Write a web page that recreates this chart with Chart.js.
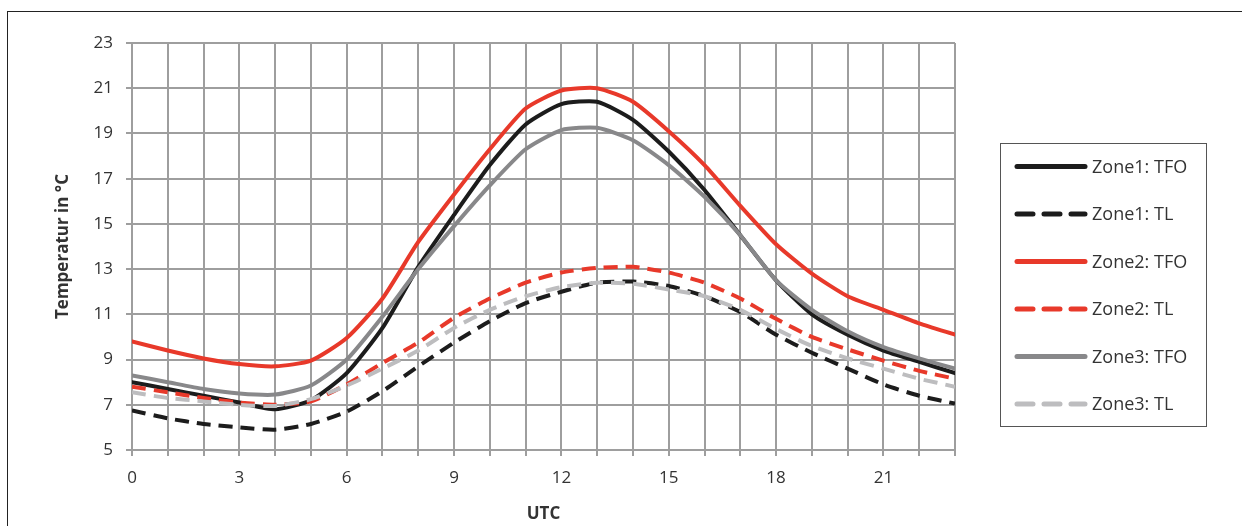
<!DOCTYPE html>
<html>
<head>
<meta charset="utf-8">
<script src="https://cdn.jsdelivr.net/npm/chart.js@4"></script>
<style>
  html, body { margin: 0; padding: 0; background: #fff; }
  #wrap { position: relative; width: 1242px; height: 526px; }
  #frame { position: absolute; left: 7px; top: 11px; right: -2px; bottom: -2px; border-top: 1px solid #222; border-left: 1px solid #222; }
  canvas { position: absolute; left: 0; top: 0; }
</style>
</head>
<body>
<div id="wrap">
  <div id="frame"></div>
  <canvas id="chart" width="1242" height="526"></canvas>
</div>
<script>
const hours = [0, 1, 2, 3, 4, 5, 6, 7, 8, 9, 10, 11, 12, 13, 14, 15, 16, 17, 18, 19, 20, 21, 22, 23];
const xTickLabels = [0, 3, 6, 9, 12, 15, 18, 21];
const yTickLabels = [5, 7, 9, 11, 13, 15, 17, 19, 21, 23];

const zone1TFO = [8.0, 7.7, 7.4, 7.1, 6.8, 7.2, 8.4, 10.4, 13.1, 15.4, 17.6, 19.4, 20.3, 20.4, 19.6, 18.2, 16.5, 14.5, 12.5, 11.0, 10.1, 9.4, 8.9, 8.4];
const zone1TL = [6.75, 6.4, 6.15, 6.0, 5.9, 6.15, 6.7, 7.6, 8.7, 9.75, 10.7, 11.5, 12.0, 12.4, 12.45, 12.25, 11.8, 11.1, 10.1, 9.3, 8.6, 7.9, 7.4, 7.05];
const zone2TFO = [9.8, 9.4, 9.05, 8.8, 8.7, 8.95, 9.95, 11.7, 14.2, 16.3, 18.3, 20.1, 20.9, 21.0, 20.4, 19.1, 17.6, 15.8, 14.1, 12.8, 11.8, 11.2, 10.6, 10.1];
const zone2TL = [7.8, 7.55, 7.3, 7.1, 7.0, 7.15, 7.9, 8.85, 9.75, 10.85, 11.7, 12.4, 12.85, 13.05, 13.1, 12.85, 12.4, 11.7, 10.8, 10.0, 9.45, 8.95, 8.5, 8.15];
const zone3TFO = [8.3, 8.0, 7.7, 7.5, 7.45, 7.85, 9.0, 10.9, 13.0, 14.9, 16.7, 18.3, 19.15, 19.25, 18.7, 17.6, 16.2, 14.5, 12.5, 11.2, 10.25, 9.55, 9.05, 8.6];
const zone3TL = [7.55, 7.3, 7.15, 7.0, 6.95, 7.25, 7.85, 8.6, 9.4, 10.4, 11.2, 11.8, 12.2, 12.4, 12.35, 12.1, 11.8, 11.2, 10.35, 9.6, 9.05, 8.6, 8.15, 7.8];

const colors = {
  black: "#1c1c1c",
  red: "#e8392a",
  gray: "#88888a",
  light: "#bdbdbf",
  grid: "#9e9e9e",
  text: "#333333",
};
const dash = [14, 8];

const toPoints = (arr) => arr.map((v, i) => ({ x: hours[i], y: v }));

function series(label, values, color, dashed, order) {
  return {
    label,
    data: toPoints(values),
    borderColor: color,
    backgroundColor: color,
    borderWidth: 4,
    borderDash: dashed ? dash : [],
    borderCapStyle: dashed ? "butt" : "round",
    pointRadius: 0,
    tension: 0.2,
    fill: false,
    order,
  };
}

// legend drawn in a box to the right, like the original
const boxLegend = {
  id: "boxLegend",
  afterDraw(chart) {
    const ctx = chart.ctx;
    const left = 1000, top = 143, w = 206, h = 283;
    ctx.save();
    ctx.strokeStyle = "#555";
    ctx.lineWidth = 1;
    ctx.strokeRect(left + 0.5, top + 0.5, w, h);
    chart.data.datasets.forEach((ds, i) => {
      const y = 166.5 + i * 47.5;
      ctx.beginPath();
      ctx.strokeStyle = ds.borderColor;
      ctx.lineWidth = 5;
      ctx.lineCap = "round";
      ctx.setLineDash(ds.borderDash.length ? [16, 11] : []);
      ctx.moveTo(1017, y);
      ctx.lineTo(1085, y);
      ctx.stroke();
      ctx.setLineDash([]);
      ctx.fillStyle = colors.text;
      ctx.font = "18px 'Open Sans'";
      ctx.textBaseline = "middle";
      ctx.fillText(ds.label, 1092, y + 1);
    });
    ctx.restore();
  },
};

new Chart(document.getElementById("chart"), {
  type: "line",
  data: {
    datasets: [
      series("Zone1: TFO", zone1TFO, colors.black, false, 6),
      series("Zone1: TL", zone1TL, colors.black, true, 5),
      series("Zone2: TFO", zone2TFO, colors.red, false, 4),
      series("Zone2: TL", zone2TL, colors.red, true, 3),
      series("Zone3: TFO", zone3TFO, colors.gray, false, 2),
      series("Zone3: TL", zone3TL, colors.light, true, 1),
    ],
  },
  options: {
    responsive: false,
    animation: false,
    devicePixelRatio: 1,
    layout: { padding: { left: 53, right: 287, top: 43, bottom: 0 } },
    plugins: {
      legend: { display: false },
      tooltip: { enabled: false },
    },
    scales: {
      x: {
        type: "linear",
        min: 0,
        max: 23,
        afterFit(scale) { scale.height = 76; },
        ticks: {
          stepSize: 1,
          autoSkip: false,
          maxRotation: 0,
          padding: 12,
          color: colors.text,
          font: { family: "'Open Sans'", size: 17 },
          callback: (v) => (xTickLabels.includes(v) ? String(v) : ""),
        },
        grid: { color: colors.grid, lineWidth: 2, tickLength: 6 },
        border: { color: colors.grid, width: 2 },
        title: {
          display: true,
          text: "UTC",
          color: colors.text,
          font: { family: "'Open Sans'", size: 17, weight: "bold" },
          padding: { top: 0, bottom: 2 },
        },
      },
      y: {
        min: 5,
        max: 23,
        afterFit(scale) { scale.width = 79; },
        afterBuildTicks(scale) { scale.ticks = yTickLabels.map((v) => ({ value: v })); },
        ticks: {
          padding: 13,
          color: colors.text,
          font: { family: "'Open Sans'", size: 17 },
        },
        grid: { color: colors.grid, lineWidth: 2, tickLength: 6 },
        border: { color: colors.grid, width: 2 },
        title: {
          display: true,
          text: "Temperatur in °C",
          color: colors.text,
          font: { family: "'Open Sans'", size: 17, weight: "bold" },
          padding: { top: 0, bottom: 0 },
        },
      },
    },
  },
  plugins: [boxLegend],
});
</script>
</body>
</html>
